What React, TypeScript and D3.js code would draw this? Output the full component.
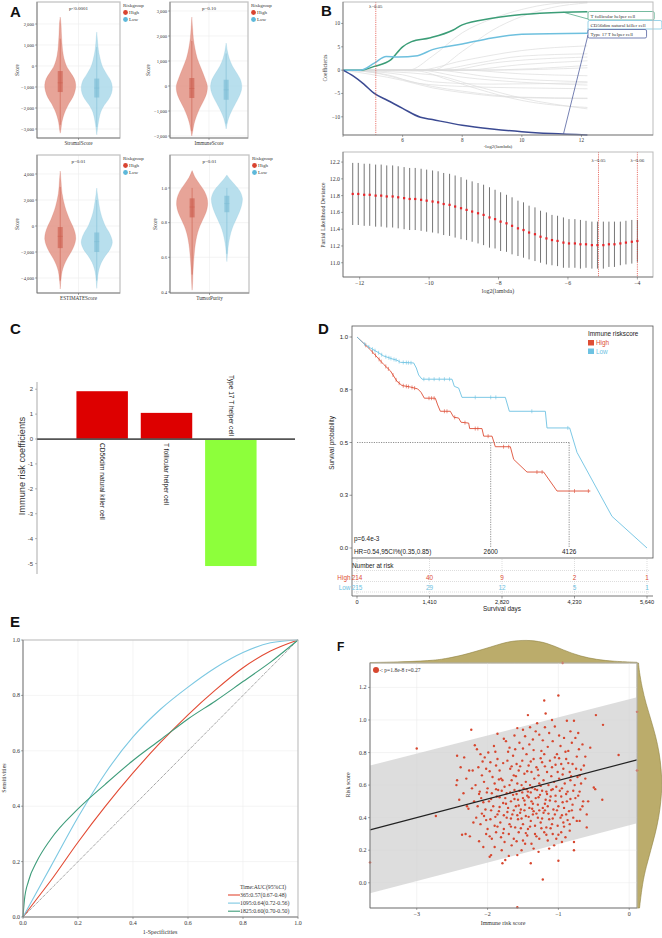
import React from "react";
import * as d3 from "d3";

type P = [number, number];

const SERIF = "'Liberation Serif','DejaVu Serif',serif";
const SANS = "'Liberation Sans',Arial,sans-serif";

// ---------- A: violin densities [value, relative width] ----------
const stromalHigh: P[] = [[2330,0],[2000,0.05],[1500,0.08],[1000,0.12],[500,0.2],[0,0.4],[-300,0.65],[-600,0.9],[-900,1],[-1200,0.95],[-1500,0.8],[-1800,0.55],[-2100,0.35],[-2400,0.2],[-2700,0.1],[-3000,0.05],[-3200,0]];
const stromalLow: P[] = [[1620,0],[1200,0.05],[800,0.1],[400,0.2],[0,0.35],[-400,0.65],[-700,0.9],[-1000,1],[-1300,0.95],[-1600,0.75],[-1900,0.45],[-2200,0.25],[-2500,0.15],[-2800,0.08],[-3100,0.03],[-3280,0]];
const immuneHigh: P[] = [[2760,0],[2300,0.05],[1900,0.1],[1500,0.2],[1100,0.35],[700,0.6],[300,0.85],[0,1],[-300,0.95],[-600,0.75],[-900,0.5],[-1200,0.3],[-1500,0.15],[-1800,0.06],[-2000,0]];
const immuneLow: P[] = [[1720,0],[1400,0.08],[1100,0.2],[800,0.4],[500,0.7],[200,0.95],[-100,1],[-400,0.85],[-700,0.6],[-1000,0.35],[-1300,0.15],[-1550,0.05],[-1720,0]];
const estimateHigh: P[] = [[4230,0],[3500,0.05],[2500,0.12],[1500,0.3],[500,0.6],[0,0.8],[-500,0.95],[-1000,1],[-1500,0.9],[-2000,0.7],[-2500,0.45],[-3000,0.25],[-3500,0.12],[-4000,0.06],[-4500,0.02],[-4850,0]];
const estimateLow: P[] = [[2920,0],[2500,0.04],[2000,0.1],[1000,0.25],[0,0.55],[-500,0.8],[-1000,0.97],[-1300,1],[-1800,0.85],[-2300,0.55],[-2800,0.3],[-3300,0.15],[-3800,0.07],[-4300,0.03],[-4800,0]];
const purityHigh: P[] = [[1.1,0],[1.06,0.2],[1.02,0.5],[0.98,0.8],[0.94,0.97],[0.9,1],[0.86,0.9],[0.82,0.7],[0.78,0.5],[0.74,0.35],[0.7,0.25],[0.65,0.17],[0.6,0.12],[0.55,0.08],[0.5,0.05],[0.45,0.03],[0.41,0]];
const purityLow: P[] = [[1.075,0],[1.05,0.2],[1.02,0.5],[0.98,0.85],[0.94,1],[0.9,0.95],[0.86,0.8],[0.82,0.6],[0.78,0.4],[0.74,0.25],[0.7,0.15],[0.66,0.08],[0.62,0.04],[0.575,0]];
// [lower whisker, q1, median, q3, upper whisker] for High, Low
const stromalStats = [[-2800,-1240,-800,-240,1300],[-2900,-1500,-1050,-600,900]];
const immuneStats = [[-1800,-480,-100,320,1800],[-1500,-550,-150,250,1300]];
const estimateStats = [[-4200,-1700,-800,-80,3000],[-4200,-2000,-1200,-500,2000]];
const purityStats = [[0.5,0.83,0.89,0.94,1.0],[0.62,0.86,0.91,0.955,1.0]];
const stromalTicks = [-3000,-2000,-1000,0,1000,2000];
const immuneTicks = [-2000,-1000,0,1000,2000,3000];
const estimateTicks = [-4000,-2000,0,2000,4000];
const purityTicks = [0.4,0.6,0.8,1.0];
const riskGroups = ["High","Low"];

// ---------- B: lasso paths [-log2(lambda), coef] ----------
const follicularPath: P[] = [[4,0],[4.6,0],[5.05,0.8],[5.6,2.2],[6,5],[6.3,6.1],[6.9,6.9],[7.7,8.6],[8,9.7],[9,11.1],[10,11.9],[11.4,12.4],[12.2,12.5]];
const cd56Path: P[] = [[4,0],[4.6,0],[5.05,1.5],[5.45,2.9],[5.85,2.8],[6.5,3.1],[7,4.4],[8,5.6],[9,6.9],[10,7.7],[12.2,7.9]];
const th17Path: P[] = [[4,0],[4.35,-1.3],[4.7,-3],[5.05,-5],[5.5,-6.5],[6,-8.2],[6.6,-10.1],[7,-10.6],[8,-11.8],[9,-12.6],[10,-13.2],[11,-13.6],[12.2,-13.9]];
const grayPaths: P[][] = [
  [[4,0],[6.2,0],[7,3],[8,8],[9,11],[10,13],[11,14.2],[12.2,14.6]],
  [[4,0],[7,0],[8,4],[9,8.5],[10,11.5],[11,13.4],[12.2,14.4]],
  [[4,0],[6.5,0],[8,2],[10,4.2],[12.2,5.2]],
  [[4,0],[7,0],[8.5,1.5],[10,3],[12.2,3.5]],
  [[4,0],[7.5,0],[9,1.5],[12.2,2.8]],
  [[4,0],[8,0],[10,1.2],[12.2,2]],
  [[4,0],[8.5,0],[12.2,1]],
  [[4,0],[9,0],[12.2,0.5]],
  [[4,0],[8,0],[10,-0.8],[12.2,-1.2]],
  [[4,0],[7,0],[9,-1.5],[12.2,-2.5]],
  [[4,0],[6.5,0],[8,-1.5],[10,-2.6],[12.2,-3.2]],
  [[4,0],[5.5,-1],[6.5,-2.8],[8,-3.5],[10,-3.8],[12.2,-4]],
  [[4,0],[5,-0.5],[6,-2],[7,-3.5],[8,-4.5],[10,-5.8],[12.2,-6]],
  [[4,0],[6,-2.2],[7,-3.8],[8,-4.8],[10,-5.9],[12.2,-6.1]],
  [[4,0],[6.5,-0.2],[7.5,-2],[8.5,-4],[10,-6.5],[12.2,-8]],
  [[4,0],[7,-1],[8.5,-3.5],[10,-6],[12.2,-8.3]],
  [[4,0],[6,-1],[7,-2.5],[9,-3],[12.2,-2.7]],
];
const lassoNames = ["T follicular helper cell","CD56dim natural killer cell","Type 17 T helper cell"];

// ---------- B: cross-validation ----------
const cvLogLambda = [-12.2,-12.04,-11.87,-11.71,-11.54,-11.38,-11.22,-11.05,-10.89,-10.72,-10.56,-10.4,-10.23,-10.07,-9.9,-9.74,-9.58,-9.41,-9.25,-9.08,-8.92,-8.76,-8.59,-8.43,-8.26,-8.1,-7.94,-7.77,-7.61,-7.44,-7.28,-7.12,-6.95,-6.79,-6.62,-6.46,-6.3,-6.13,-5.97,-5.8,-5.64,-5.48,-5.31,-5.15,-4.98,-4.82,-4.66,-4.49,-4.33,-4.16,-4.0];
const cvMean = [11.82,11.82,11.81,11.81,11.8,11.8,11.79,11.79,11.78,11.77,11.76,11.76,11.75,11.74,11.73,11.72,11.7,11.69,11.67,11.65,11.63,11.61,11.59,11.57,11.54,11.52,11.49,11.47,11.44,11.41,11.39,11.36,11.34,11.31,11.29,11.27,11.26,11.24,11.23,11.23,11.22,11.22,11.21,11.21,11.21,11.22,11.22,11.23,11.24,11.25,11.26];
const cvHalf = [0.37,0.37,0.37,0.37,0.37,0.37,0.37,0.37,0.37,0.37,0.37,0.37,0.37,0.37,0.37,0.37,0.37,0.37,0.37,0.37,0.36,0.36,0.36,0.36,0.36,0.35,0.35,0.34,0.34,0.33,0.33,0.32,0.32,0.31,0.31,0.3,0.3,0.3,0.29,0.29,0.29,0.28,0.28,0.28,0.28,0.27,0.27,0.26,0.26,0.26,0.25];

// ---------- C: coefficients ----------
const coefNames = ["CD56dim natural killer cell","T follicular helper cell","Type 17 T helper cell"];
const coefValues = [1.92,1.05,-5.1];
const coefTicks = [-5,-4,-3,-2,-1,0,1,2];

// ---------- D: Kaplan-Meier [days, survival] ----------
const kmHigh: P[] = [[0,1],[130,0.97],[259,0.94],[389,0.905],[519,0.87],[648,0.84],[778,0.79],[875,0.77],[1037,0.763],[1180,0.754],[1245,0.738],[1310,0.71],[1523,0.71],[1569,0.678],[1621,0.648],[1815,0.648],[1880,0.62],[1977,0.616],[2023,0.596],[2172,0.592],[2191,0.566],[2431,0.566],[2464,0.53],[2626,0.53],[2690,0.48],[2982,0.48],[3047,0.42],[3306,0.36],[3630,0.36],[3890,0.27],[4538,0.27]];
const kmLow: P[] = [[0,1],[130,0.97],[259,0.948],[389,0.93],[519,0.91],[700,0.895],[778,0.89],[843,0.88],[1102,0.877],[1154,0.853],[1199,0.82],[1264,0.8],[1848,0.8],[1893,0.766],[1977,0.758],[2042,0.714],[2885,0.714],[2963,0.648],[3663,0.648],[3695,0.569],[4136,0.569],[4279,0.453],[4959,0.15],[5640,0]];
const censorHigh = [170,300,360,430,470,560,610,700,760,820,900,960,1000,1070,1120,1400,1450,1500,1700,1750,1900,2100,2300,2350,2550,2850,2950,3500,3600,4230,4500];
const censorLow = [150,230,300,350,420,480,560,620,660,720,760,820,900,960,1000,1050,1300,1400,1500,1600,1700,1800,2300,2600,2700,3400,4100];
const kmYTicks = [0,0.25,0.5,0.75,1];
const kmYLabels = ["0.0","0.3","0.5","0.8","1.0"];
const riskTimes = [0,1410,2820,4230,5640];
const atRiskHigh = [214,40,9,2,1];
const atRiskLow = [215,29,12,5,1];
const medianTimes = [2600,4126];

// ---------- E: ROC [1-spec, sens] ----------
const roc365: P[] = [[0,0],[0.05,0.065],[0.1,0.13],[0.2,0.27],[0.3,0.4],[0.4,0.52],[0.5,0.63],[0.6,0.73],[0.7,0.82],[0.8,0.9],[0.9,0.96],[1,1]];
const roc1095: P[] = [[0,0],[0.05,0.09],[0.1,0.18],[0.2,0.36],[0.3,0.52],[0.4,0.65],[0.5,0.75],[0.6,0.83],[0.7,0.9],[0.8,0.955],[0.9,0.99],[1,1]];
const roc1825: P[] = [[0,0],[0.005,0.06],[0.02,0.13],[0.05,0.2],[0.1,0.28],[0.2,0.39],[0.3,0.48],[0.4,0.565],[0.5,0.64],[0.6,0.715],[0.7,0.78],[0.8,0.85],[0.9,0.92],[1,1]];
const rocLabels = ["365:0.57(0.67-0.48)","1095:0.64(0.72-0.56)","1825:0.60(0.70-0.50)"];
const unitTicks = [0,0.2,0.4,0.6,0.8,1];

// ---------- F: correlation ----------
const riskPoints: P[] = [
  [-3.66,0.125],[-3.0,0.825],[-2.73,0.41],[-2.43,0.78],[-2.43,0.63],[-2.44,0.6],[-2.33,0.77],[-2.38,0.71],[-2.23,0.94],[-2.18,0.845],[-2.4,0.51],[-2.31,0.3],[-2.27,0.455],[-2.36,0.295],[-2.25,0.285],[-2.12,0.255],[-2.06,0.22],[-2.21,0.69],[-2.26,0.69],[-2.29,0.47],[-2.15,0.82],[-1.97,0.16],[-1.95,0.17],[-1.79,0.12],[-1.75,0.14],[-1.8,0.2],[-1.7,0.165],[-1.58,0.17],[-1.58,-0.15],[-1.39,0.12],[-1.22,0.02],[-1.0,0.135],[-0.94,1.35],[-1.2,1.12],[-1.0,1.15],[-1.18,1.04],[-1.43,1.03],[-0.47,1.03],[-0.37,0.97],[-0.88,0.995],[-0.78,0.995],[-0.15,0.785],[0.11,1.05],[0.11,0.69],[-0.38,0.51],[-0.6,0.34],[-0.55,0.83],[-0.5,0.585],[-0.48,0.575],[-0.78,0.25],[-0.78,0.2],[-0.95,0.25],[-1.13,0.21],[-1.5,0.94],[-1.3,0.98],[-1.05,0.96],[-0.62,0.775],[-0.58,0.5],[-0.66,0.47],[-0.7,0.56],
  [-2.1,0.79],[-2.04,0.77],[-1.99,0.8],[-1.91,0.84],[-1.86,0.76],[-1.77,0.885],[-1.74,0.87],[-1.69,0.83],[-1.64,0.78],[-1.61,0.82],[-1.55,0.86],[-1.47,0.9],[-1.41,0.85],[-1.36,0.88],[-1.32,0.93],[-1.27,0.91],[-1.24,0.81],[-1.19,0.955],[-1.13,0.92],[-1.08,0.87],[-1.02,0.79],[-0.97,0.84],[-0.92,0.89],[-0.86,0.81],[-0.81,0.86],[-0.76,0.89],[-0.71,0.82],[-0.66,0.85],
  [-2.13,0.71],[-2.08,0.66],[-2.02,0.7],[-1.96,0.74],[-1.93,0.65],[-1.88,0.72],[-1.83,0.69],[-1.79,0.63],[-1.72,0.75],[-1.68,0.7],[-1.63,0.66],[-1.59,0.73],[-1.56,0.69],[-1.51,0.75],[-1.48,0.67],[-1.45,0.79],[-1.42,0.72],[-1.38,0.68],[-1.35,0.76],[-1.31,0.71],[-1.28,0.66],[-1.23,0.74],[-1.2,0.79],[-1.16,0.68],[-1.12,0.75],[-1.09,0.71],[-1.05,0.77],[-1.01,0.68],[-0.96,0.73],[-0.93,0.7],[-0.89,0.76],[-0.84,0.68],[-0.8,0.73],[-0.75,0.7],[-0.7,0.66],[-0.64,0.72],
  [-2.17,0.6],[-2.11,0.56],[-2.05,0.62],[-2.0,0.58],[-1.94,0.55],[-1.9,0.61],[-1.85,0.57],[-1.81,0.64],[-1.76,0.59],[-1.73,0.55],[-1.69,0.6],[-1.66,0.63],[-1.62,0.57],[-1.58,0.61],[-1.55,0.565],[-1.52,0.6],[-1.49,0.58],[-1.46,0.62],[-1.43,0.56],[-1.4,0.6],[-1.37,0.585],[-1.34,0.64],[-1.3,0.57],[-1.27,0.61],[-1.25,0.595],[-1.21,0.63],[-1.17,0.56],[-1.14,0.6],[-1.1,0.57],[-1.06,0.62],[-1.03,0.59],[-0.99,0.64],[-0.95,0.58],[-0.91,0.61],[-0.87,0.56],[-0.83,0.63],[-0.77,0.6],[-0.73,0.65],
  [-2.19,0.5],[-2.14,0.47],[-2.09,0.52],[-2.03,0.45],[-1.98,0.5],[-1.92,0.47],[-1.87,0.53],[-1.84,0.44],[-1.78,0.49],[-1.75,0.52],[-1.71,0.46],[-1.67,0.5],[-1.64,0.54],[-1.6,0.47],[-1.57,0.51],[-1.53,0.45],[-1.5,0.52],[-1.47,0.48],[-1.44,0.535],[-1.41,0.46],[-1.38,0.5],[-1.35,0.44],[-1.32,0.52],[-1.29,0.48],[-1.26,0.54],[-1.22,0.46],[-1.18,0.51],[-1.15,0.47],[-1.11,0.53],[-1.07,0.45],[-1.04,0.5],[-1.0,0.47],[-0.96,0.53],[-0.92,0.46],[-0.88,0.5],[-0.85,0.44],[-0.8,0.48],[-0.76,0.52],[-0.69,0.45],
  [-2.16,0.4],[-2.1,0.36],[-2.05,0.41],[-2.0,0.33],[-1.96,0.39],[-1.9,0.35],[-1.86,0.42],[-1.82,0.37],[-1.77,0.33],[-1.73,0.4],[-1.69,0.36],[-1.65,0.42],[-1.61,0.34],[-1.57,0.39],[-1.54,0.43],[-1.5,0.36],[-1.46,0.41],[-1.43,0.33],[-1.39,0.38],[-1.36,0.42],[-1.33,0.35],[-1.29,0.4],[-1.25,0.37],[-1.21,0.43],[-1.17,0.34],[-1.13,0.39],[-1.09,0.36],[-1.05,0.42],[-1.01,0.35],[-0.97,0.4],[-0.93,0.37],[-0.89,0.42],[-0.84,0.36],[-0.79,0.4],[-0.74,0.38],
  [-2.02,0.3],[-1.94,0.27],[-1.88,0.31],[-1.81,0.28],[-1.76,0.25],[-1.7,0.3],[-1.63,0.27],[-1.56,0.31],[-1.5,0.26],[-1.44,0.29],[-1.38,0.24],[-1.33,0.3],[-1.27,0.27],[-1.2,0.31],[-1.15,0.26],[-1.08,0.3],[-1.03,0.27],[-0.96,0.31],[-0.9,0.28],[-0.84,0.32],
  [-1.9,0.22],[-1.66,0.23],[-1.52,0.2],[-1.47,0.24],[-1.35,0.21],[-1.28,0.19],[-1.06,0.23],
  [-2.07,0.745],[-1.97,0.685],[-1.89,0.805],[-1.84,0.635],[-1.78,0.735],[-1.71,0.805],[-1.66,0.715],[-1.6,0.655],[-1.54,0.715],[-1.5,0.825],[-1.44,0.685],[-1.39,0.745],[-1.35,0.815],[-1.29,0.695],[-1.25,0.765],[-1.19,0.715],[-1.15,0.835],[-1.1,0.655],[-1.04,0.725],[-0.99,0.765],[-0.94,0.665],[-0.9,0.805],[-0.86,0.735],[-0.82,0.655],[-0.74,0.775],[-0.68,0.695],
  [-2.12,0.545],[-2.06,0.495],[-2.01,0.555],[-1.95,0.515],[-1.88,0.575],[-1.83,0.525],[-1.8,0.565],[-1.74,0.485],[-1.68,0.555],[-1.62,0.515],[-1.59,0.545],[-1.56,0.475],[-1.51,0.555],[-1.48,0.505],[-1.45,0.575],[-1.42,0.525],[-1.39,0.555],[-1.36,0.485],[-1.33,0.575],[-1.28,0.525],[-1.23,0.565],[-1.19,0.485],[-1.16,0.545],[-1.12,0.505],[-1.08,0.575],[-1.04,0.535],[-0.98,0.565],[-0.94,0.495],[-0.89,0.545],[-0.83,0.515],[-0.79,0.565],[-0.72,0.535],
  [-2.08,0.425],[-2.02,0.385],[-1.95,0.445],[-1.89,0.405],[-1.83,0.465],[-1.77,0.415],[-1.72,0.435],[-1.67,0.395],[-1.63,0.445],[-1.58,0.415],[-1.52,0.395],[-1.48,0.445],[-1.42,0.405],[-1.37,0.455],[-1.31,0.425],[-1.27,0.445],[-1.23,0.395],[-1.19,0.445],[-1.14,0.425],[-1.08,0.395],[-1.02,0.445],[-0.95,0.415],[-0.87,0.385],[-0.81,0.445],
  [-1.97,0.285],[-1.86,0.345],[-1.78,0.305],[-1.67,0.345],[-1.59,0.255],[-1.53,0.335],[-1.46,0.305],[-1.4,0.345],[-1.31,0.285],[-1.24,0.335],[-1.17,0.295],[-1.11,0.335],[-1.0,0.295],[-0.92,0.345],
  [-1.62,0.905],[-1.4,0.955],[-1.22,0.875],[-0.99,0.905],[-0.83,0.93],[-1.86,0.915],[-1.58,0.95],[-1.09,1.0],[-0.72,0.92],[-0.68,0.61],[-0.62,0.64],[-0.65,0.5],[-0.6,0.42],[-0.7,0.38],[-2.22,0.58],[-2.3,0.64],[-2.34,0.55],[-2.2,0.37],
];
const fitLine: P[] = [[-3.66,0.325],[0.11,0.755]];
const bandUpper: P[] = [[-3.66,0.72],[0.11,1.14]];
const bandLower: P[] = [[-3.66,-0.065],[0.11,0.365]];
const topDensity: P[] = [[-3.66,0.02],[-3.3,0.04],[-2.8,0.1],[-2.6,0.18],[-2.35,0.34],[-2.15,0.52],[-1.95,0.7],[-1.8,0.85],[-1.63,0.97],[-1.4,1],[-1.16,0.88],[-0.93,0.56],[-0.69,0.29],[-0.46,0.15],[-0.22,0.07],[0.11,0.03]];
const rightDensity: P[] = [[-0.155,0.1],[0,0.22],[0.1,0.37],[0.2,0.55],[0.3,0.73],[0.4,0.87],[0.5,0.96],[0.6,1],[0.7,0.97],[0.8,0.89],[0.9,0.75],[1.0,0.56],[1.1,0.36],[1.2,0.2],[1.3,0.09],[1.35,0.06]];
const fXTicks = [-3,-2,-1,0];
const fYTicks = [0,0.2,0.4,0.6,0.8,1.0,1.2];

const HIGH_FILL = "#E18D7E", LOW_FILL = "#A6D7E8";
const HIGH_BOX = "#CC5E4E", LOW_BOX = "#7DBDD5";
const KM_RED = "#DE4E35", KM_BLUE = "#6DC2E2";
const GREEN = "#3B9D77", LBLUE = "#6EC0DE", DBLUE = "#3B4A92";

const minus = d3.format(",");

function Violin({ box, domain, ticks, fmt, title, pText, dens, stats, yLabelX }: any) {
  const [x0, y0, x1, y1] = box;
  const y = d3.scaleLinear().domain(domain).range([y1, y0]);
  const x = d3.scalePoint().domain(riskGroups).range([x0, x1]).padding(0.636);
  const w = d3.scaleLinear().domain([0, 1]).range([0, 15.5]);
  const cx = (x0 + x1) / 2;
  const fills = [HIGH_FILL, LOW_FILL];
  const boxes = [HIGH_BOX, LOW_BOX];
  const dots = ["#D9432F", "#5DB8DA"];
  return (
    <g fontFamily={SERIF}>
      {ticks.map((t: number) => (
        <line key={t} x1={x0} x2={x1} y1={y(t)} y2={y(t)} stroke="#ededed" strokeWidth={0.6} />
      ))}
      <line x1={cx} x2={cx} y1={y0} y2={y1} stroke="#ededed" strokeWidth={0.6} />
      {riskGroups.map((g, i) => {
        const c = x(g)!;
        const area = d3.area<P>().y((d) => y(d[0])).x0((d) => c - w(d[1])).x1((d) => c + w(d[1])).curve(d3.curveCatmullRom);
        const s = stats[i];
        return (
          <g key={g}>
            <path d={area(dens[i])!} fill={fills[i]} fillOpacity={0.8} stroke={boxes[i]} strokeOpacity={0.4} strokeWidth={0.5} />
            <line x1={c} x2={c} y1={y(s[0])} y2={y(s[4])} stroke={boxes[i]} strokeWidth={0.6} />
            <rect x={c - 2.5} width={5} y={y(s[3])} height={y(s[1]) - y(s[3])} fill={boxes[i]} fillOpacity={0.65} />
            <line x1={c - 2.5} x2={c + 2.5} y1={y(s[2])} y2={y(s[2])} stroke={boxes[i]} strokeWidth={0.5} />
          </g>
        );
      })}
      <rect x={x0} y={y0} width={x1 - x0} height={y1 - y0} fill="none" stroke="#c4c4c4" strokeWidth={1.3} />
      <line x1={x0} x2={x0} y1={y0} y2={y1} stroke="#555" strokeWidth={0.6} />
      <line x1={x0} x2={x1} y1={y1} y2={y1} stroke="#555" strokeWidth={0.6} />
      {ticks.map((t: number) => (
        <g key={t}>
          <line x1={x0 - 2} x2={x0} y1={y(t)} y2={y(t)} stroke="#555" strokeWidth={0.5} />
          <text x={x0 - 3} y={y(t) + 1.6} fontSize={4.6} textAnchor="end" fill="#333">{fmt(t)}</text>
        </g>
      ))}
      <line x1={cx} x2={cx} y1={y1} y2={y1 + 2} stroke="#555" strokeWidth={0.5} />
      <text x={cx} y={y1 + 7} fontSize={5.2} textAnchor="middle" fill="#333">{title}</text>
      <text x={cx} y={y0 + 8} fontSize={5} textAnchor="middle" fill="#333">{pText}</text>
      <text transform={`translate(${yLabelX},${(y0 + y1) / 2}) rotate(-90)`} fontSize={5.2} textAnchor="middle" fill="#333">Score</text>
      <g transform={`translate(${x1 + 3},${y0 + 5})`}>
        <text x={0} y={0} fontSize={5} fill="#333">Riskgroup</text>
        {riskGroups.map((g, i) => (
          <g key={g} transform={`translate(0,${7 + i * 7})`}>
            <circle cx={2.5} cy={-1.5} r={2.4} fill={dots[i]} />
            <text x={6} y={0} fontSize={5} fill="#333">{g}</text>
          </g>
        ))}
      </g>
    </g>
  );
}

function survAt(curve: P[], t: number) {
  const i = d3.bisector((d: P) => d[0]).right(curve, t) - 1;
  const a = curve[Math.max(0, i)];
  const b = curve[Math.min(curve.length - 1, i + 1)];
  if (b[0] === a[0]) return a[1];
  return a[1] + ((t - a[0]) / (b[0] - a[0])) * (b[1] - a[1]);
}

function PanelB() {
  const lx = d3.scaleLinear().domain([4, 14.4]).range([343, 653]);
  const ly = d3.scaleLinear().domain([-13.9, 14.6]).range([135, 2]);
  const line = d3.line<P>().x((d) => lx(d[0])).y((d) => ly(d[1])).curve(d3.curveMonotoneX);
  const hl = [follicularPath, cd56Path, th17Path];
  const hlColors = [GREEN, LBLUE, DBLUE];
  const labelY = [16, 25, 34];
  const connFrom: P[] = [[11.4, 12.4], [12.2, 7.9], [11.4, -13.6]];
  const connToY = [19, 28, 35];

  const cx = d3.scaleLinear().domain([-12.48, -3.55]).range([343, 653]);
  const cy = d3.scaleLinear().domain([10.83, 12.32]).range([277, 152]);
  return (
    <g fontFamily={SERIF} fill="#333">
      {/* lasso */}
      {grayPaths.map((p, i) => (
        <path key={i} d={line(p)!} fill="none" stroke="#dcdcdc" strokeWidth={0.7} />
      ))}
      {hl.map((p, i) => (
        <path key={i} d={line(p)!} fill="none" stroke={hlColors[i]} strokeWidth={1.5} />
      ))}
      {connFrom.map((p, i) => (
        <line key={i} x1={lx(p[0])} y1={ly(p[1])} x2={588} y2={connToY[i]} stroke={hlColors[i]} strokeWidth={0.7} />
      ))}
      {lassoNames.map((n, i) => (
        <g key={n}>
          <rect x={588} y={labelY[i] - 4.5} width={n.length * 2.55 + 5} height={8.5} rx={1.5} fill="#fff" stroke={hlColors[i]} strokeWidth={0.7} />
          <text x={590.5} y={labelY[i] + 1.8} fontSize={5}>{n}</text>
        </g>
      ))}
      <line x1={lx(5.1)} x2={lx(5.1)} y1={2} y2={135} stroke="#E03C31" strokeWidth={0.7} strokeDasharray="1.2,1" />
      <text x={lx(5.1)} y={8} fontSize={4.8} textAnchor="middle">λ=0.05</text>
      <rect x={343} y={2} width={310} height={133} fill="none" stroke="#bbb" strokeWidth={1} />
      <line x1={343} x2={343} y1={2} y2={135} stroke="#555" strokeWidth={0.6} />
      <line x1={343} x2={653} y1={135} y2={135} stroke="#555" strokeWidth={0.6} />
      {[-10, -5, 0, 5, 10].map((t) => (
        <g key={t}>
          <line x1={341} x2={343} y1={ly(t)} y2={ly(t)} stroke="#555" strokeWidth={0.5} />
          <text x={340} y={ly(t) + 1.8} fontSize={5.2} textAnchor="end">{t < 0 ? `−${-t}` : t}</text>
        </g>
      ))}
      {[4, 6, 8, 10, 12].map((t) => (
        <g key={t}>
          <line x1={lx(t)} x2={lx(t)} y1={135} y2={137} stroke="#555" strokeWidth={0.5} />
          {t > 4 && <text x={lx(t)} y={142} fontSize={5.2} textAnchor="middle">{t}</text>}
        </g>
      ))}
      <text x={498} y={148} fontSize={5} textAnchor="middle">-log2(lambda)</text>
      <text transform="translate(327,68) rotate(-90)" fontSize={5.5} textAnchor="middle">Coefficients</text>

      {/* cross-validation */}
      {cvLogLambda.map((v, i) => (
        <line key={i} x1={cx(v)} x2={cx(v)} y1={cy(cvMean[i] - cvHalf[i])} y2={cy(cvMean[i] + cvHalf[i])} stroke="#666" strokeWidth={0.9} />
      ))}
      {cvLogLambda.map((v, i) => (
        <rect key={i} x={cx(v) - 1.1} y={cy(cvMean[i]) - 1.1} width={2.2} height={2.2} fill="#E8262A" />
      ))}
      {[-5.12, -4].map((v, i) => (
        <g key={v}>
          <line x1={cx(v)} x2={cx(v)} y1={152} y2={277} stroke="#E03C31" strokeWidth={0.7} strokeDasharray="1.2,1" />
          <text x={cx(v)} y={162} fontSize={5} textAnchor="middle">{i === 0 ? "λ=0.05" : "λ=0.06"}</text>
        </g>
      ))}
      <rect x={343} y={152} width={310} height={125} fill="none" stroke="#bbb" strokeWidth={1} />
      <line x1={343} x2={343} y1={152} y2={277} stroke="#555" strokeWidth={0.6} />
      <line x1={343} x2={653} y1={277} y2={277} stroke="#555" strokeWidth={0.6} />
      {[11.0, 11.2, 11.4, 11.6, 11.8, 12.0, 12.2].map((t) => (
        <g key={t}>
          <line x1={341} x2={343} y1={cy(t)} y2={cy(t)} stroke="#555" strokeWidth={0.5} />
          <text x={340} y={cy(t) + 2} fontSize={5.8} textAnchor="end">{t.toFixed(1)}</text>
        </g>
      ))}
      {[-12, -10, -8, -6, -4].map((t) => (
        <g key={t}>
          <line x1={cx(t)} x2={cx(t)} y1={277} y2={279.5} stroke="#555" strokeWidth={0.5} />
          <text x={cx(t)} y={285} fontSize={5.8} textAnchor="middle">{`−${-t}`}</text>
        </g>
      ))}
      <text x={498} y={293} fontSize={6} textAnchor="middle">log2(lambda)</text>
      <text transform="translate(325,215) rotate(-90)" fontSize={5.8} textAnchor="middle">Partial Likelihood Deviance</text>
    </g>
  );
}

function PanelC() {
  const x = d3.scaleBand().domain(coefNames).range([70, 263]).paddingInner(0.2).paddingOuter(0.1);
  const y = d3.scaleLinear().domain([-5.42, 2.29]).range([574, 382]);
  return (
    <g fontFamily={SANS}>
      {coefNames.map((n, i) => {
        const v = coefValues[i];
        const bx = x(n)!;
        const mid = bx + x.bandwidth() / 2;
        return (
          <g key={n}>
            <rect x={bx} width={x.bandwidth()} y={y(Math.max(0, v))} height={Math.abs(y(v) - y(0))} fill={v > 0 ? "#DD0000" : "#8DFF3B"} />
            <text transform={`translate(${mid},${v > 0 ? y(0) + 4 : y(0) - 3}) rotate(90)`} fontSize={6.6} dy="0.35em" textAnchor={v > 0 ? "start" : "end"} fill="#222">{n}</text>
          </g>
        );
      })}
      <line x1={37} x2={295} y1={y(0)} y2={y(0)} stroke="#555" strokeWidth={1.8} />
      <line x1={37} x2={37} y1={382} y2={574} stroke="#888" strokeWidth={0.7} />
      {coefTicks.map((t) => (
        <g key={t}>
          <line x1={35} x2={37} y1={y(t)} y2={y(t)} stroke="#888" strokeWidth={0.6} />
          <text x={33} y={y(t) + 2} fontSize={6} textAnchor="end" fill="#444">{t}</text>
        </g>
      ))}
      <text transform="translate(25,466) rotate(-90)" fontSize={9.2} textAnchor="middle" fill="#333">Immune risk coefficients</text>
    </g>
  );
}

function PanelD() {
  const x = d3.scaleLinear().domain([0, 5640]).range([357, 647]);
  const y = d3.scaleLinear().domain([0, 1]).range([548, 337]);
  const line = d3.line<P>().x((d) => x(d[0])).y((d) => y(d[1]));
  const curves = [kmHigh, kmLow];
  const colors = [KM_RED, KM_BLUE];
  const censors = [censorHigh, censorLow];
  const rows = [atRiskHigh, atRiskLow];
  return (
    <g fontFamily={SANS} fill="#222">
      <rect x={352} y={326} width={301} height={232} fill="none" stroke="#555" strokeWidth={0.8} />
      <line x1={x(0)} x2={x(medianTimes[1])} y1={y(0.5)} y2={y(0.5)} stroke="#444" strokeWidth={0.6} strokeDasharray="1.2,1.2" />
      {medianTimes.map((t) => (
        <g key={t}>
          <line x1={x(t)} x2={x(t)} y1={y(0.5)} y2={y(0)} stroke="#444" strokeWidth={0.6} strokeDasharray="1.2,1.2" />
          <text x={x(t)} y={554} fontSize={6.4} textAnchor="middle">{t}</text>
        </g>
      ))}
      {curves.map((c, i) => (
        <g key={i}>
          <path d={line(c)!} fill="none" stroke={colors[i]} strokeWidth={0.9} />
          {censors[i].map((t) => (
            <line key={t} x1={x(t)} x2={x(t)} y1={y(survAt(c, t)) - 2} y2={y(survAt(c, t)) + 2} stroke={colors[i]} strokeWidth={0.6} />
          ))}
        </g>
      ))}
      {kmYTicks.map((t, i) => (
        <g key={t}>
          <line x1={349.5} x2={352} y1={y(t)} y2={y(t)} stroke="#555" strokeWidth={0.6} />
          <text x={348} y={y(t) + 2} fontSize={6} textAnchor="end">{kmYLabels[i]}</text>
        </g>
      ))}
      <text transform="translate(334,443) rotate(-90)" fontSize={6.4} textAnchor="middle">Survival probability</text>
      <text x={354} y={541} fontSize={6.4}>p=6.4e-3</text>
      <text x={354} y={554} fontSize={6.4}>HR=0.54,95CI%(0.35,0.85)</text>
      <text x={588} y={336} fontSize={6.4}>Immune riskscore</text>
      {riskGroups.map((g, i) => (
        <g key={g} transform={`translate(588,${340 + i * 8.5})`}>
          <rect x={0} y={0} width={6} height={5.5} fill={colors[i]} />
          <text x={8} y={5} fontSize={6.4} fill={colors[i]}>{g}</text>
        </g>
      ))}
      {/* risk table */}
      <line x1={352} x2={352} y1={558} y2={596} stroke="#555" strokeWidth={0.8} />
      <line x1={352} x2={653} y1={596} y2={596} stroke="#555" strokeWidth={0.8} />
      {[570.5, 581.5, 592].map((yy) => (
        <line key={yy} x1={352} x2={650} y1={yy} y2={yy} stroke="#bbb" strokeWidth={0.5} strokeDasharray="1,1" />
      ))}
      {riskTimes.map((t) => (
        <line key={t} x1={x(t)} x2={x(t)} y1={559} y2={596} stroke="#bbb" strokeWidth={0.5} strokeDasharray="1,1" />
      ))}
      <text x={352} y={568} fontSize={6.4}>Number at risk</text>
      {rows.map((r, i) => (
        <g key={i} fill={colors[i]}>
          <text x={350.5} y={579.5 + i * 10.5} fontSize={6.4} textAnchor="end">{riskGroups[i]}</text>
          {r.map((n, j) => (
            <text key={j} x={x(riskTimes[j])} y={579.5 + i * 10.5} fontSize={6.4} textAnchor="middle">{n}</text>
          ))}
        </g>
      ))}
      {riskTimes.map((t) => (
        <g key={t}>
          <line x1={x(t)} x2={x(t)} y1={596} y2={598.5} stroke="#555" strokeWidth={0.6} />
          <text x={x(t)} y={604} fontSize={5.6} textAnchor="middle">{minus(t)}</text>
        </g>
      ))}
      <text x={502} y={611} fontSize={6.4} textAnchor="middle">Survival days</text>
    </g>
  );
}

function PanelE() {
  const x = d3.scaleLinear().domain([0, 1]).range([23, 298]);
  const y = d3.scaleLinear().domain([0, 1]).range([917, 640]);
  const line = d3.line<P>().x((d) => x(d[0])).y((d) => y(d[1])).curve(d3.curveMonotoneX);
  const curves = [roc365, roc1095, roc1825];
  const colors = ["#E24A33", "#7CC8E2", "#3E9C7A"];
  return (
    <g fontFamily={SERIF} fill="#333">
      {unitTicks.map((t) => (
        <g key={t}>
          <line x1={x(t)} x2={x(t)} y1={640} y2={917} stroke="#ececec" strokeWidth={0.6} />
          <line x1={23} x2={298} y1={y(t)} y2={y(t)} stroke="#ececec" strokeWidth={0.6} />
        </g>
      ))}
      <line x1={x(0)} y1={y(0)} x2={x(1)} y2={y(1)} stroke="#444" strokeWidth={0.7} strokeDasharray="1,1" />
      {curves.map((c, i) => (
        <path key={i} d={line(c)!} fill="none" stroke={colors[i]} strokeWidth={1.1} />
      ))}
      <rect x={23} y={640} width={275} height={277} fill="none" stroke="#bbb" strokeWidth={1} />
      <line x1={23} x2={23} y1={640} y2={917} stroke="#555" strokeWidth={0.6} />
      <line x1={23} x2={298} y1={917} y2={917} stroke="#555" strokeWidth={0.6} />
      {unitTicks.map((t) => (
        <g key={t}>
          <line x1={21} x2={23} y1={y(t)} y2={y(t)} stroke="#555" strokeWidth={0.5} />
          <text x={20} y={y(t) + 2} fontSize={6} textAnchor="end">{t.toFixed(1)}</text>
          <line x1={x(t)} x2={x(t)} y1={917} y2={919} stroke="#555" strokeWidth={0.5} />
          <text x={x(t)} y={925} fontSize={6} textAnchor="middle">{t.toFixed(1)}</text>
        </g>
      ))}
      <text x={160} y={934} fontSize={6} textAnchor="middle">1-Specificities</text>
      <text transform="translate(6,778) rotate(-90)" fontSize={6} textAnchor="middle">Sensitivities</text>
      <text x={240} y={889} fontSize={5.8}>Time:AUC(95%CI)</text>
      {rocLabels.map((l, i) => (
        <g key={l}>
          <line x1={228} x2={240} y1={895 + i * 8.1} y2={895 + i * 8.1} stroke={colors[i]} strokeWidth={1.1} />
          <text x={240} y={897 + i * 8.1} fontSize={5.8}>{l}</text>
        </g>
      ))}
    </g>
  );
}

function PanelF() {
  const x = d3.scaleLinear().domain([-3.66, 0.11]).range([370, 637]);
  const y = d3.scaleLinear().domain([-0.155, 1.35]).range([908, 663]);
  const bandPts = bandUpper.map((d, i) => [d[0], d[1], bandLower[i][1]] as [number, number, number]);
  const bandPath = d3.area<[number, number, number]>().x((d) => x(d[0])).y0((d) => y(d[2])).y1((d) => y(d[1]))(bandPts)!;
  const line = d3.line<P>().x((d) => x(d[0])).y((d) => y(d[1]));
  const th = d3.scaleLinear().domain([0, 1]).range([0, 23]);
  const rw = d3.scaleLinear().domain([0, 1]).range([0, 25]);
  const topArea = d3.area<P>().x((d) => x(d[0])).y0(663).y1((d) => 663 - th(d[1])).curve(d3.curveBasis);
  const rightArea = d3.area<P>().y((d) => y(d[0])).x0(637).x1((d) => 637 + rw(d[1])).curve(d3.curveBasis);
  return (
    <g fontFamily={SERIF} fill="#333">
      <path d={topArea(topDensity)!} fill="#BBAC6B" stroke="#8F8140" strokeWidth={0.6} />
      <path d={rightArea(rightDensity)!} fill="#BBAC6B" stroke="#8F8140" strokeWidth={0.6} />
      {fYTicks.map((t) => (
        <line key={t} x1={370} x2={637} y1={y(t)} y2={y(t)} stroke="#ececec" strokeWidth={0.6} />
      ))}
      {fXTicks.map((t) => (
        <line key={t} x1={x(t)} x2={x(t)} y1={663} y2={908} stroke="#ececec" strokeWidth={0.6} />
      ))}
      <path d={bandPath} fill="#d2d2d2" fillOpacity={0.75} />
      {riskPoints.map((p, i) => (
        <circle key={i} cx={x(p[0])} cy={y(p[1])} r={1.2} fill="#D7472F" />
      ))}
      <path d={line(fitLine)!} stroke="#222" strokeWidth={1.2} fill="none" />
      <rect x={370} y={663} width={267} height={245} fill="none" stroke="#bbb" strokeWidth={1} />
      <line x1={370} x2={370} y1={663} y2={908} stroke="#555" strokeWidth={0.6} />
      <line x1={370} x2={637} y1={908} y2={908} stroke="#555" strokeWidth={0.6} />
      {fYTicks.map((t) => (
        <g key={t}>
          <line x1={368} x2={370} y1={y(t)} y2={y(t)} stroke="#555" strokeWidth={0.5} />
          <text x={366.5} y={y(t) + 2} fontSize={6} textAnchor="end">{t.toFixed(1)}</text>
        </g>
      ))}
      {fXTicks.map((t) => (
        <g key={t}>
          <line x1={x(t)} x2={x(t)} y1={908} y2={910} stroke="#555" strokeWidth={0.5} />
          <text x={x(t)} y={916} fontSize={6} textAnchor="middle">{t < 0 ? `−${-t}` : t}</text>
        </g>
      ))}
      <text x={503} y={925} fontSize={6} textAnchor="middle">Immune risk score</text>
      <text transform="translate(350,785) rotate(-90)" fontSize={6} textAnchor="middle">Risk score</text>
      <circle cx={376} cy={670} r={3} fill="#D7472F" />
      <text x={379.5} y={672} fontSize={5.6}>-: p=1.8e-8 r=0.27</text>
    </g>
  );
}

export default function App() {
  return (
    <svg width={662} height={938} viewBox="0 0 662 938" style={{ position: "absolute", left: 0, top: 0, background: "#fff" }}>
      <rect width={662} height={938} fill="#fff" />
      <Violin box={[37, 2, 120, 138]} domain={[-3429, 3048]} ticks={stromalTicks} fmt={minus} title="StromalScore" pText="p<0.0001" dens={[stromalHigh, stromalLow]} stats={stromalStats} yLabelX={19} />
      <Violin box={[170, 2, 248, 138]} domain={[-2080, 3360]} ticks={immuneTicks} fmt={minus} title="ImmuneScore" pText="p=0.10" dens={[immuneHigh, immuneLow]} stats={immuneStats} yLabelX={150} />
      <Violin box={[37, 155, 120, 293]} domain={[-5154, 5460]} ticks={estimateTicks} fmt={minus} title="ESTIMATEScore" pText="p=0.01" dens={[estimateHigh, estimateLow]} stats={estimateStats} yLabelX={19} />
      <Violin box={[170, 155, 249, 293]} domain={[0.394, 1.19]} ticks={purityTicks} fmt={d3.format(".1f")} title="TumorPurity" pText="p=0.01" dens={[purityHigh, purityLow]} stats={purityStats} yLabelX={157} />
      <PanelB />
      <PanelC />
      <PanelD />
      <PanelE />
      <PanelF />
      <g fontFamily={SANS} fontWeight="bold" fill="#111">
        <text x={10} y={17} fontSize={15}>A</text>
        <text x={321} y={16} fontSize={15}>B</text>
        <text x={10} y={334} fontSize={15}>C</text>
        <text x={318} y={334} fontSize={15}>D</text>
        <text x={10} y={627} fontSize={15}>E</text>
        <text x={337} y={651} fontSize={12}>F</text>
      </g>
    </svg>
  );
}
